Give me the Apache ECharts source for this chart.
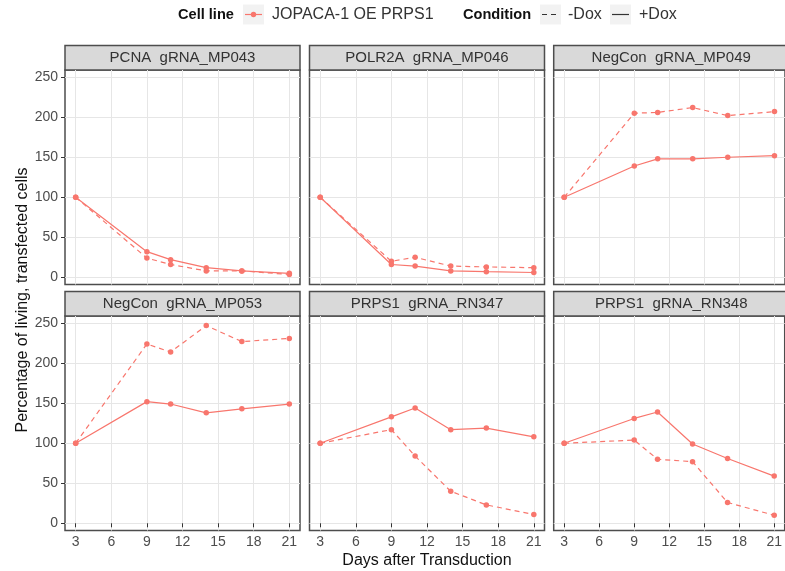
<!DOCTYPE html>
<html>
<head>
<meta charset="utf-8">
<script src="https://cdn.jsdelivr.net/npm/echarts@6/dist/echarts.min.js"></script>
<style>
html, body { margin: 0; padding: 0; background: #fff; }
#main { width: 785px; height: 571px; }
</style>
</head>
<body>
<div id="main"></div>
<script>
// data
var days = [3, 9, 11, 14, 17, 21];
var xTicks = [3, 6, 9, 12, 15, 18, 21];
var yTicks = [0, 50, 100, 150, 200, 250];
var panelNames = ['PCNA  gRNA_MP043', 'POLR2A  gRNA_MP046', 'NegCon  gRNA_MP049',
                  'NegCon  gRNA_MP053', 'PRPS1  gRNA_RN347', 'PRPS1  gRNA_RN348'];

// +Dox (solid)
var plusMP043 = [100, 32, 22, 12, 8, 5];
var plusMP046 = [100, 16, 14, 8, 7, 6];
var plusMP049 = [100, 139, 148, 148, 150, 152];
var plusMP053 = [100, 152, 149, 138, 143, 149];
var plusRN347 = [100, 133, 144, 117, 119, 108];
var plusRN348 = [100, 131, 139, 99, 81, 59];
// -Dox (dashed)
var minusMP043 = [100, 24, 16, 8, 8, 3.5];
var minusMP046 = [100, 20, 25, 14, 13, 12];
var minusMP049 = [100, 205, 206, 212, 202, 207];
var minusMP053 = [100, 224, 214, 247, 227, 231];
var minusRN347 = [100, 117, 84, 40, 23, 11];
var minusRN348 = [100, 104, 80, 77, 26, 10];

var plusDox = [plusMP043, plusMP046, plusMP049, plusMP053, plusRN347, plusRN348];
var minusDox = [minusMP043, minusMP046, minusMP049, minusMP053, minusRN347, minusRN348];

var red = '#F8766D';
var colLeft = [65, 309.5, 553.7];
var rowTop = [70, 316];
var panelW = 235;
var panelH = 214.5;
var stripH = 24.5;

function pairs(vals) {
	var out = [];
	for (var i = 0; i < days.length; i++) {
		out.push([days[i], vals[i]]);
	}
	return out;
}

var grids = [], xAxes = [], yAxes = [], series = [], graphics = [];

for (var p = 0; p < 6; p++) {
	var row = Math.floor(p / 3), col = p % 3;
	var bottom = row == 1, first = col == 0;
	grids.push({
		left: colLeft[col], top: rowTop[row], width: panelW, height: panelH,
		show: true, borderColor: '#4d4d4d', borderWidth: 1.5, backgroundColor: '#fff'
	});
	xAxes.push({
		gridIndex: p, type: 'value', min: 2.1, max: 21.9,
		axisLine: { show: false },
		axisTick: { show: bottom, length: 4, customValues: xTicks, lineStyle: { color: '#333' } },
		axisLabel: { show: bottom, customValues: xTicks, color: '#4d4d4d', fontSize: 14, margin: 5, fontFamily: 'Liberation Sans' },
		splitLine: { show: true, lineStyle: { color: '#e6e6e6', width: 1 } }
	});
	yAxes.push({
		gridIndex: p, type: 'value', min: -9, max: 259,
		axisLine: { show: false },
		axisTick: { show: first, length: 4, customValues: yTicks, lineStyle: { color: '#333' } },
		axisLabel: { show: first, customValues: yTicks, color: '#4d4d4d', fontSize: 14, margin: 7, fontFamily: 'Liberation Sans' },
		splitLine: { show: true, lineStyle: { color: '#e6e6e6', width: 1 } }
	});
	series.push({
		name: '-Dox', type: 'line', xAxisIndex: p, yAxisIndex: p,
		data: pairs(minusDox[p]), symbol: 'circle', symbolSize: 5.5,
		itemStyle: { color: red }, lineStyle: { color: red, width: 1.2, type: [5, 4] },
		animation: false
	});
	series.push({
		name: '+Dox', type: 'line', xAxisIndex: p, yAxisIndex: p,
		data: pairs(plusDox[p]), symbol: 'circle', symbolSize: 5.5,
		itemStyle: { color: red }, lineStyle: { color: red, width: 1.2 },
		animation: false
	});
	// facet strip
	graphics.push({
		type: 'rect',
		shape: { x: colLeft[col], y: rowTop[row] - stripH, width: panelW, height: stripH },
		style: { fill: '#D9D9D9', stroke: '#4d4d4d', lineWidth: 1.5 }
	});
	graphics.push({
		type: 'text', x: colLeft[col] + panelW / 2, y: rowTop[row] - stripH / 2,
		style: { text: panelNames[p], fill: '#333', font: '15px "Liberation Sans"', align: 'center', verticalAlign: 'middle' }
	});
}

// axis titles
graphics.push({
	type: 'text', x: 23, y: 300, rotation: Math.PI / 2,
	style: { text: 'Percentage of living, transfected cells', fill: '#111', font: '16px "Liberation Sans"', align: 'center', verticalAlign: 'middle' }
});
graphics.push({
	type: 'text', x: 427, y: 561,
	style: { text: 'Days after Transduction', fill: '#111', font: '16px "Liberation Sans"', align: 'center', verticalAlign: 'middle' }
});

// legend
var ly = 14.5;
graphics.push(
	{ type: 'text', x: 178, y: ly, style: { text: 'Cell line', fill: '#111', font: 'bold 14.6px "Liberation Sans"', verticalAlign: 'middle' } },
	{ type: 'rect', shape: { x: 243, y: 4.5, width: 21, height: 20 }, style: { fill: '#F2F2F2' } },
	{ type: 'line', shape: { x1: 245, y1: ly, x2: 262, y2: ly }, style: { stroke: red, lineWidth: 1.2 } },
	{ type: 'circle', shape: { cx: 253.5, cy: ly, r: 2.7 }, style: { fill: red } },
	{ type: 'text', x: 272, y: ly, style: { text: 'JOPACA-1 OE PRPS1', fill: '#333', font: '16px "Liberation Sans"', verticalAlign: 'middle' } },
	{ type: 'text', x: 463, y: ly, style: { text: 'Condition', fill: '#111', font: 'bold 14.6px "Liberation Sans"', verticalAlign: 'middle' } },
	{ type: 'rect', shape: { x: 540, y: 4.5, width: 21, height: 20 }, style: { fill: '#F2F2F2' } },
	{ type: 'line', shape: { x1: 542, y1: ly, x2: 559, y2: ly }, style: { stroke: '#333', lineWidth: 1.2, lineDash: [5, 4] } },
	{ type: 'text', x: 568, y: ly, style: { text: '-Dox', fill: '#333', font: '16px "Liberation Sans"', verticalAlign: 'middle' } },
	{ type: 'rect', shape: { x: 610, y: 4.5, width: 21, height: 20 }, style: { fill: '#F2F2F2' } },
	{ type: 'line', shape: { x1: 612, y1: ly, x2: 629, y2: ly }, style: { stroke: '#333', lineWidth: 1.2 } },
	{ type: 'text', x: 639, y: ly, style: { text: '+Dox', fill: '#333', font: '16px "Liberation Sans"', verticalAlign: 'middle' } }
);

var myChart = echarts.init(document.getElementById('main'), null, { renderer: 'canvas' });
myChart.setOption({
	animation: false,
	backgroundColor: '#fff',
	grid: grids,
	xAxis: xAxes,
	yAxis: yAxes,
	series: series,
	graphic: graphics
});
</script>
</body>
</html>
